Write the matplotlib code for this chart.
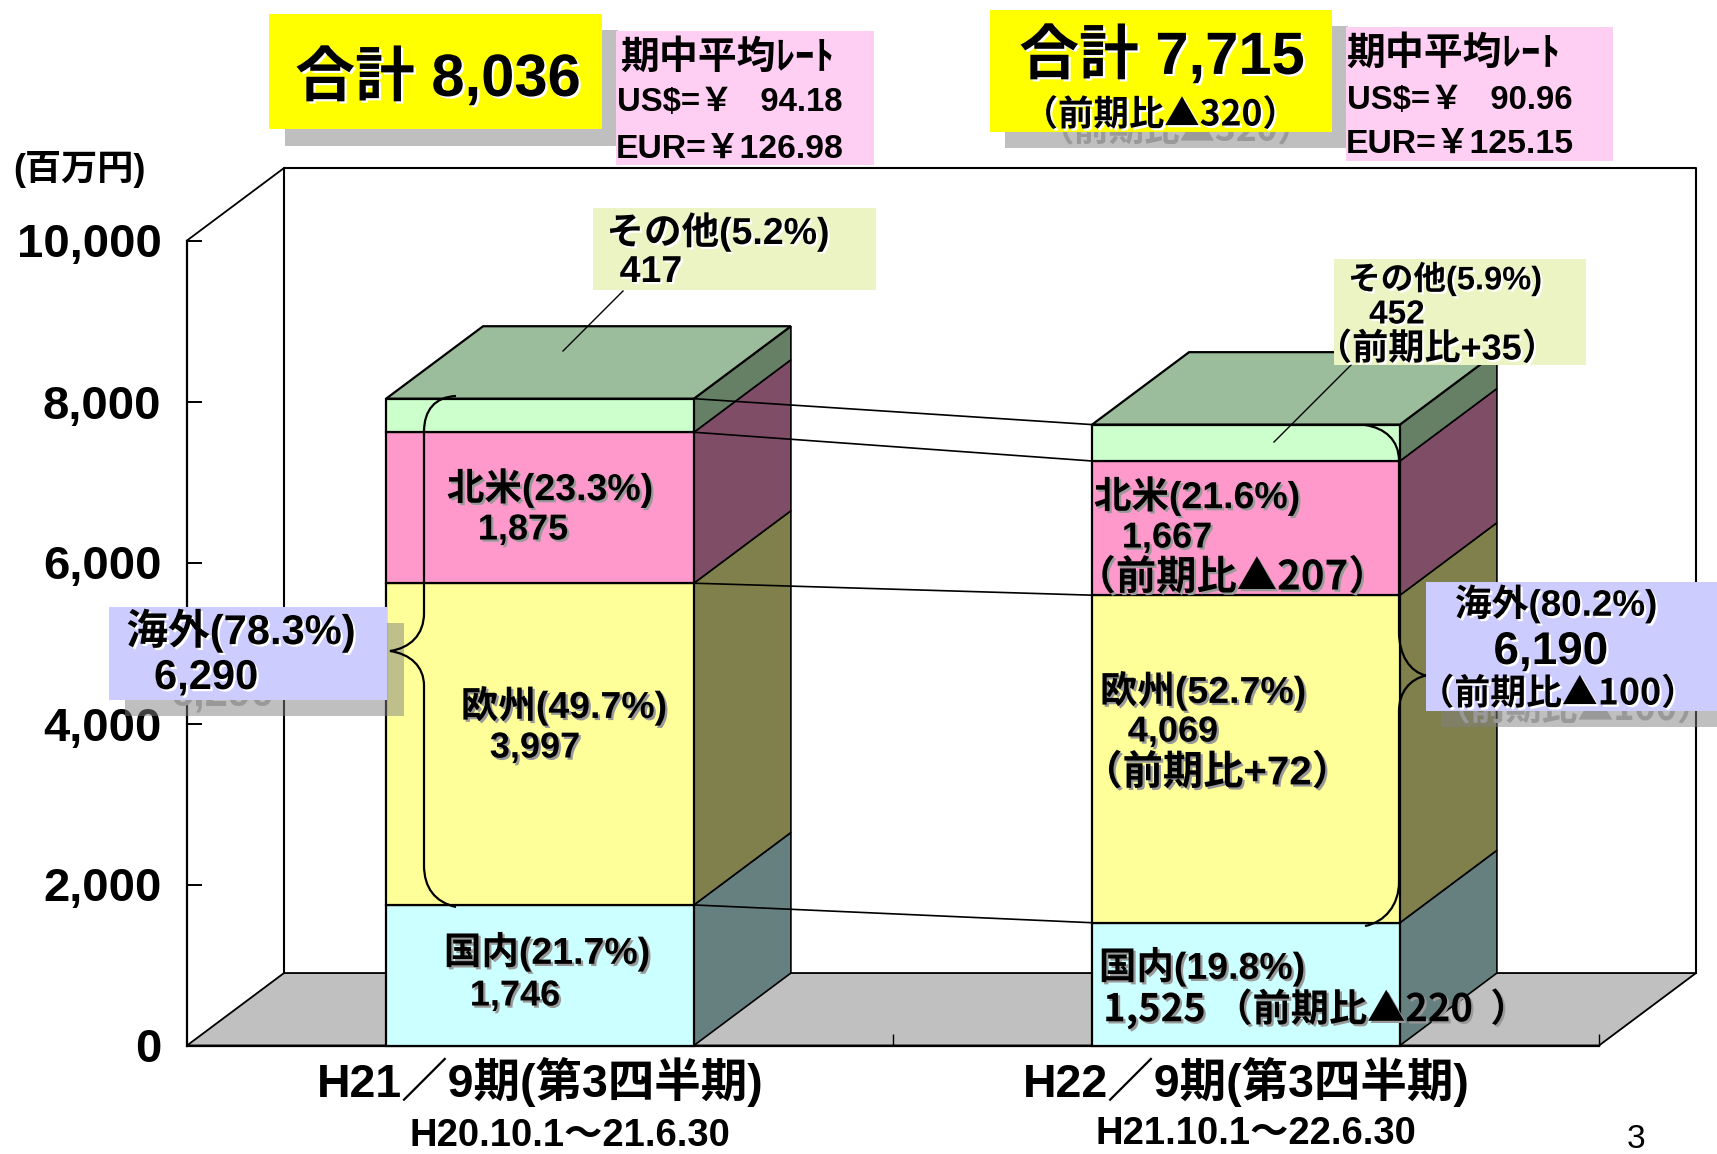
import matplotlib
matplotlib.use('Agg')
import matplotlib.pyplot as plt
import matplotlib.patheffects as pe
from matplotlib.patches import Rectangle, PathPatch
from matplotlib.path import Path
from matplotlib.transforms import Affine2D

plt.rcParams['font.family'] = ['Liberation Sans', 'Noto Sans CJK JP', 'DejaVu Sans']

# data
periods = ['H21／9期(第3四半期)', 'H22／9期(第3四半期)']
ranges = ['H20.10.1～21.6.30', 'H21.10.1～22.6.30']
domestic = [1746, 1525]
europe = [3997, 4069]
north_america = [1875, 1667]
other = [417, 452]
yticks = [0, 2000, 4000, 6000, 8000, 10000]

front_cols = ['#CCFFFF', '#FFFF99', '#FF99CC', '#CCFFCC']
side_cols = ['#668080', '#80804D', '#804D66', '#668066']
top_col = '#9BBD9B'

W, H = 1717, 1154
fig = plt.figure(figsize=(W / 100, H / 100), dpi=100)
px = Affine2D().scale(1 / W, -1 / H).translate(0, 1) + fig.transFigure

# axes is the front face of the 3D box
ax = fig.add_axes([187 / W, 1 - 1045.5 / H, 1412 / W, 805 / H])
ax.set_xlim(0, 2)
ax.set_ylim(0, 10000)
for s in ['top', 'right']:
    ax.spines[s].set_visible(False)
for s in ['left', 'bottom']:
    ax.spines[s].set_linewidth(1.6)

dx = 97 / 706
dv = 900
width = 0.436
pos = [0.5, 1.5]

# floor and back wall
ax.fill([0, dx, 2 + dx, 2], [0, dv, dv, 0], color='#C0C0C0', zorder=0, clip_on=False)
ax.plot([0, dx], [10000, 10000 + dv], color='k', lw=1.3, zorder=0.5, clip_on=False)
ax.plot([dx, dx, 2 + dx, 2 + dx], [dv, 10000 + dv, 10000 + dv, dv], color='k', lw=1.5, zorder=0.5, clip_on=False)
ax.plot([0, dx, 2 + dx, 2, 0], [0, dv, dv, 0, 0], color='k', lw=1.3, zorder=0.5, clip_on=False)

series = [domestic, europe, north_america, other]
bottoms = [0, 0]
tops_all = []
for vals, fc, sc in zip(series, front_cols, side_cols):
    ax.bar(pos, vals, width, bottom=bottoms, color=fc, edgecolor='k', linewidth=1.6, zorder=3, clip_on=False)
    for p, v, b in zip(pos, vals, bottoms):
        xr = p + width / 2
        ax.fill([xr, xr + dx, xr + dx, xr], [b, b + dv, b + v + dv, b + v], facecolor=sc,
                edgecolor='k', linewidth=1.2, zorder=2, clip_on=False)
    bottoms = [b + v for b, v in zip(bottoms, vals)]
    tops_all.append(list(bottoms))

for p, t in zip(pos, bottoms):
    xl, xr = p - width / 2, p + width / 2
    ax.fill([xl, xl + dx, xr + dx, xr], [t, t + dv, t + dv, t], facecolor=top_col,
            edgecolor='k', linewidth=1.6, zorder=2.5, clip_on=False)

# connectors between the two bars
for t in tops_all:
    ax.plot([pos[0] + width / 2, pos[1] - width / 2], t, color='k', lw=1.2, zorder=3.5)

ax.set_yticks(yticks, [f'{v:,}' for v in yticks], fontsize=34, fontweight='bold')
ax.set_xticks([1, 2], ['', ''])
ax.set_xticks(pos, periods, minor=True, fontsize=33.5, fontweight='bold')
ax.tick_params(axis='y', direction='in', length=10.8, width=1.4, pad=18.4)
ax.tick_params(axis='x', which='major', direction='in', length=9, width=1)
ax.tick_params(axis='x', which='minor', length=0, pad=8)


def box(x0, y0, x1, y1, color, z, alpha=None):
    fig.add_artist(Rectangle((x0, y0), x1 - x0, y1 - y0, transform=px, facecolor=color,
                             edgecolor='none', alpha=alpha, zorder=z))


def label(s, cx, cy, size, shadow=None, weight='bold', color='k', z=6):
    # liberation's triangle is tiny, those strings go in noto
    fam = ['Noto Sans CJK JP', 'DejaVu Sans'] if '▲' in s else None
    t = fig.text(cx, cy + 2, s, transform=px, ha='center', va='center', fontsize=size,
                 fontweight=weight, color=color, zorder=z, family=fam)
    if shadow:
        t.set_path_effects([pe.SimplePatchShadow(offset=(1.6, -1.6), shadow_rgbFace=shadow, alpha=1), pe.Normal()])
    return t


def brace(pts, z=3):
    codes = [Path.MOVETO, Path.CURVE4, Path.CURVE4, Path.CURVE4, Path.LINETO, Path.CURVE4, Path.CURVE4, Path.CURVE4,
             Path.CURVE4, Path.CURVE4, Path.CURVE4, Path.LINETO, Path.CURVE4, Path.CURVE4, Path.CURVE4]
    fig.add_artist(PathPatch(Path(pts, codes), transform=px, facecolor='none', edgecolor='k', lw=1.6, zorder=z))


# total panels
box(285, 30, 618, 146, '#808080', 2, 0.5)
box(269, 14, 602, 129, '#FFFF00', 4)
label('合計 8,036', 438, 76, 43, '#FFFFFF')

box(1005, 26, 1348, 148, '#808080', 2, 0.5)
label('（前期比▲320）', 1176, 129, 25.5, color='#999999', z=3)
box(990, 10, 1332, 132, '#FFFF00', 4)
label('合計 7,715', 1162, 54, 43, '#FFFFFF')
label('（前期比▲320）', 1160, 113, 25.5, '#FFFFFF')

# exchange rate panels
box(616, 31, 874, 165, '#FFCEF3', 4)
label('期中平均ﾚｰﾄ', 727, 56, 28)
label('US$=￥   94.18', 730, 101, 23.7)
label('EUR=￥126.98', 730, 147, 24.3)

box(1346, 27, 1613, 161, '#FFCEF3', 4)
label('期中平均ﾚｰﾄ', 1453, 52, 28)
label('US$=￥   90.96', 1460, 98, 23.7)
label('EUR=￥125.15', 1460, 142, 24.3)

label('(百万円)', 79, 168, 26)

# その他 callouts
box(593, 208, 876, 290, '#ECF4C4', 4)
label('その他(5.2%)', 718, 230, 27, '#FFFFFF')
label('417', 651, 270, 27, '#FFFFFF')
fig.add_artist(plt.Line2D([623, 563], [291, 351], transform=px, color='k', lw=1, zorder=4))

box(1334, 259, 1586, 365, '#ECF4C4', 4)
label('その他(5.9%)', 1445, 277, 23.5, '#FFFFFF')
label('452', 1397, 313, 24, '#FFFFFF')
label('（前期比+35）', 1437, 348, 26, '#FFFFFF')
fig.add_artist(plt.Line2D([1351, 1274], [365, 442], transform=px, color='k', lw=1, zorder=4))

# segment labels, first bar
label('北米(23.3%)', 550, 486, 27, '#999999')
label('1,875', 523, 528, 26, '#999999')
label('欧州(49.7%)', 564, 704, 27, '#999999')
label('3,997', 535, 746, 26, '#999999')
label('国内(21.7%)', 547, 950, 27, '#999999')
label('1,746', 515, 994, 26, '#999999')

# segment labels, second bar
label('北米(21.6%)', 1197, 494, 27, '#999999')
label('1,667', 1167, 536, 26, '#999999')
label('（前期比▲207）', 1232, 576, 29, '#999999')
label('欧州(52.7%)', 1203, 689, 27, '#999999')
label('4,069', 1173, 730, 26, '#999999')
label('（前期比+72）', 1217, 771, 29, '#999999')
label('国内(19.8%)', 1202, 965, 27, '#999999')
label('1,525 （前期比▲220  ）', 1316, 1007, 27.5, '#999999')

# 海外 panels and braces
box(125, 623, 404, 716, '#808080', 2, 0.5)
label('6,290', 222, 692, 30, color='#999999', z=3)
brace([(456, 396), (435, 397), (424, 410), (424, 432), (424, 613), (424, 635), (410, 648), (390, 651),
       (410, 654), (424, 666), (424, 686), (424, 865), (424, 888), (435, 902), (456, 907)])
box(109, 607, 387, 700, '#CCCCFF', 4)
label('海外(78.3%)', 241, 629, 30, '#FFFFFF')
label('6,290', 206, 676, 30, '#FFFFFF')

box(1441, 598, 1717, 727, '#808080', 2, 0.5)
label('（前期比▲100）', 1574, 708, 25.8, color='#999999', z=3)
brace([(1365, 425), (1385, 428), (1399, 440), (1399, 461), (1399, 632), (1399, 655), (1410, 672), (1426, 675.5),
       (1410, 679), (1399, 692), (1399, 711), (1399, 882), (1399, 905), (1385, 922), (1365, 926)])
box(1426, 582, 1717, 711, '#CCCCFF', 4)
label('海外(80.2%)', 1556, 602, 26.5, '#FFFFFF')
label('6,190', 1551, 650, 33, '#FFFFFF')
label('（前期比▲100）', 1558, 692, 25.8, '#FFFFFF')

# period ranges and page number
label(ranges[0], 570, 1134, 27.5)
label(ranges[1], 1256, 1132, 27.5)
label('3', 1636, 1137, 24, weight='normal')

fig.savefig('out.png', dpi=100)
